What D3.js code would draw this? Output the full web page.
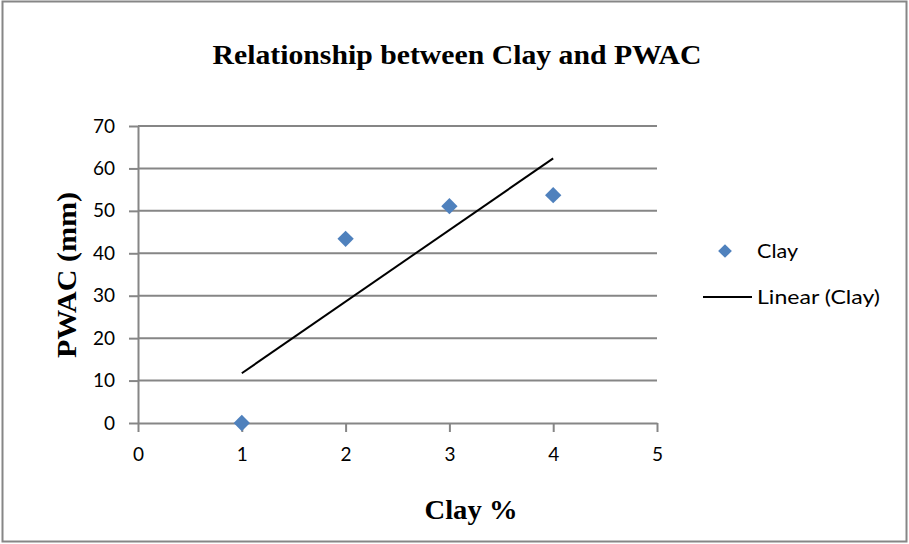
<!DOCTYPE html>
<html>
<head>
<meta charset="utf-8">
<script src="https://cdn.jsdelivr.net/npm/d3@7"></script>
<style>
  html, body { margin: 0; padding: 0; background: #fff; }
  svg { display: block; }
</style>
</head>
<body>
<svg id="chart" width="909" height="544"></svg>
<script>
// Clay content (%) against plant-available water capacity (mm)
const clayPct = [1, 2, 3, 4];
const pwacMm = [0, 43.4, 51.1, 53.7];
const xTicks = [0, 1, 2, 3, 4, 5];
const yTicks = [0, 10, 20, 30, 40, 50, 60, 70];

const svg = d3.select("#chart");
const W = 909, H = 544;
const markerBlue = "#4F81BD";
const gridGrey = "#868686";
const tickFont = "Lato, 'Open Sans', sans-serif";
const serif = "'Liberation Serif', 'DejaVu Serif', serif";

// outer frame
svg.append("rect")
  .attr("x", 2.5).attr("y", 1.5).attr("width", W - 5).attr("height", H - 4)
  .attr("fill", "#fff").attr("stroke", gridGrey).attr("stroke-width", 2);

const x = d3.scaleLinear().domain([0, 5]).range([138, 657]);
const y = d3.scaleLinear().domain([0, 70]).range([423, 126]);

// horizontal gridlines
svg.append("g")
  .selectAll("line").data(yTicks.filter(d => d > 0)).join("line")
  .attr("x1", x(0)).attr("x2", x(5))
  .attr("y1", d => y(d)).attr("y2", d => y(d))
  .attr("stroke", gridGrey).attr("stroke-width", 2);

// y axis
const yAxis = svg.append("g")
  .attr("transform", `translate(${x(0)},0)`)
  .call(d3.axisLeft(y).tickValues(yTicks).tickFormat(d3.format("d"))
    .tickSize(9).tickPadding(14).tickSizeOuter(0));
yAxis.select(".domain").attr("stroke", gridGrey).attr("stroke-width", 2);
yAxis.selectAll(".tick line").attr("stroke", gridGrey).attr("stroke-width", 2);
yAxis.selectAll(".tick text")
  .attr("font-family", tickFont).attr("font-size", 19).attr("fill", "#000");

// x axis
const xAxis = svg.append("g")
  .attr("transform", `translate(0,${y(0)})`)
  .call(d3.axisBottom(x).tickValues(xTicks).tickFormat(d3.format("d"))
    .tickSize(9).tickPadding(16).tickSizeOuter(0));
xAxis.select(".domain").attr("stroke", gridGrey).attr("stroke-width", 2);
xAxis.selectAll(".tick line").attr("stroke", gridGrey).attr("stroke-width", 2);
xAxis.selectAll(".tick text")
  .attr("font-family", tickFont).attr("font-size", 19).attr("fill", "#000");

// least-squares trendline over the data range
const mx = d3.mean(clayPct), my = d3.mean(pwacMm);
const slope = d3.sum(clayPct, (v, i) => (v - mx) * (pwacMm[i] - my)) /
              d3.sum(clayPct, v => (v - mx) * (v - mx));
const intercept = my - slope * mx;
const xMin = d3.min(clayPct), xMax = d3.max(clayPct);
svg.append("line")
  .attr("x1", x(xMin)).attr("y1", y(intercept + slope * xMin))
  .attr("x2", x(xMax)).attr("y2", y(intercept + slope * xMax))
  .attr("stroke", "#000").attr("stroke-width", 2);

// data markers
const diamond = d3.symbol().type(d3.symbolDiamond2).size(170);
svg.append("g")
  .selectAll("path").data(clayPct.map((c, i) => [c, pwacMm[i]])).join("path")
  .attr("d", diamond)
  .attr("transform", d => `translate(${x(d[0])},${y(d[1])})`)
  .attr("fill", markerBlue);

// title
svg.append("text")
  .attr("x", 457).attr("y", 64).attr("text-anchor", "middle")
  .attr("font-family", serif).attr("font-weight", "bold").attr("font-size", 28)
  .attr("textLength", 489).attr("lengthAdjust", "spacingAndGlyphs")
  .text("Relationship between Clay and PWAC");

// axis titles
svg.append("text")
  .attr("transform", "translate(76,275) rotate(-90)")
  .attr("text-anchor", "middle")
  .attr("font-family", serif).attr("font-weight", "bold").attr("font-size", 27)
  .attr("textLength", 166).attr("lengthAdjust", "spacingAndGlyphs")
  .text("PWAC (mm)");

svg.append("text")
  .attr("x", 471).attr("y", 519).attr("text-anchor", "middle")
  .attr("font-family", serif).attr("font-weight", "bold").attr("font-size", 27)
  .attr("textLength", 93).attr("lengthAdjust", "spacingAndGlyphs")
  .text("Clay %");

// legend
const legend = svg.append("g");
legend.append("path")
  .attr("d", d3.symbol().type(d3.symbolDiamond2).size(120))
  .attr("transform", "translate(725,251)")
  .attr("fill", markerBlue);
legend.append("text")
  .attr("x", 757).attr("y", 258)
  .attr("font-family", tickFont).attr("font-size", 19)
  .attr("textLength", 41).attr("lengthAdjust", "spacingAndGlyphs")
  .text("Clay");
legend.append("line")
  .attr("x1", 703).attr("x2", 752).attr("y1", 297).attr("y2", 297)
  .attr("stroke", "#000").attr("stroke-width", 2);
legend.append("text")
  .attr("x", 757).attr("y", 304)
  .attr("font-family", tickFont).attr("font-size", 19)
  .attr("textLength", 123).attr("lengthAdjust", "spacingAndGlyphs")
  .text("Linear (Clay)");
</script>
</body>
</html>
